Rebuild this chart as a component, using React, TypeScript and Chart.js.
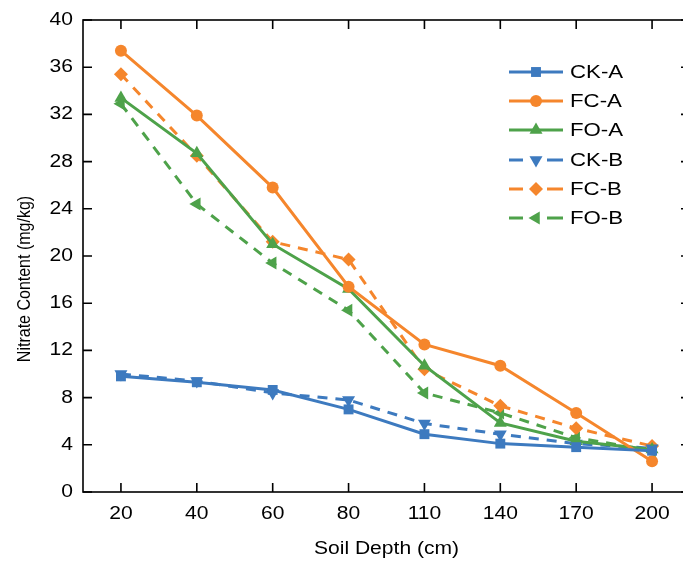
import React, { useEffect, useRef } from "react";
import { Chart, registerables } from "chart.js";

Chart.register(...registerables);

const depths = ["20", "40", "60", "80", "110", "140", "170", "200"];
const ckA = [9.8, 9.3, 8.65, 7.0, 4.9, 4.1, 3.8, 3.5];
const fcA = [37.4, 31.9, 25.8, 17.4, 12.5, 10.7, 6.7, 2.6];
const foA = [33.4, 28.7, 21.0, 17.2, 10.7, 5.85, 4.3, 3.6];
const ckB = [10.0, 9.4, 8.4, 7.8, 5.8, 4.9, 4.1, 3.7];
const fcB = [35.4, 28.5, 21.2, 19.7, 10.4, 7.3, 5.4, 3.9];
const foB = [32.9, 24.4, 19.4, 15.4, 8.4, 6.7, 4.6, 3.5];
const yTicks = [0, 4, 8, 12, 16, 20, 24, 28, 32, 36, 40];

const BLUE = "#3d7abf";
const ORANGE = "#f5862c";
const GREEN = "#4ea24a";
const FONT = "'Liberation Sans', Arial, sans-serif";
const HS = 1.17;
const DASH = [10, 8];

type SeriesDef = {
  label: string;
  data: number[];
  color: string;
  style: string;
  rot: number;
  radius: number;
  dashed: boolean;
};

const series: SeriesDef[] = [
  { label: "CK-A", data: ckA, color: BLUE, style: "rect", rot: 0, radius: 7, dashed: false },
  { label: "FC-A", data: fcA, color: ORANGE, style: "circle", rot: 0, radius: 6, dashed: false },
  { label: "FO-A", data: foA, color: GREEN, style: "triangle", rot: 0, radius: 7.5, dashed: false },
  { label: "CK-B", data: ckB, color: BLUE, style: "triangle", rot: 180, radius: 7.5, dashed: true },
  { label: "FC-B", data: fcB, color: ORANGE, style: "rectRot", rot: 0, radius: 7, dashed: true },
  { label: "FO-B", data: foB, color: GREEN, style: "triangle", rot: -90, radius: 7.5, dashed: true },
];

function drawMarker(ctx: CanvasRenderingContext2D, s: SeriesDef, x: number, y: number) {
  ctx.save();
  ctx.translate(x, y);
  ctx.rotate((s.rot * Math.PI) / 180);
  ctx.fillStyle = s.color;
  ctx.beginPath();
  const r = s.radius;
  if (s.style === "rect") {
    const h = r * Math.SQRT1_2;
    ctx.rect(-h, -h, 2 * h, 2 * h);
  } else if (s.style === "circle") {
    ctx.arc(0, 0, r, 0, Math.PI * 2);
  } else if (s.style === "triangle") {
    ctx.moveTo(0, -r);
    ctx.lineTo(r * 0.866, r * 0.5);
    ctx.lineTo(-r * 0.866, r * 0.5);
    ctx.closePath();
  } else if (s.style === "rectRot") {
    ctx.moveTo(0, -r);
    ctx.lineTo(r, 0);
    ctx.lineTo(0, r);
    ctx.lineTo(-r, 0);
    ctx.closePath();
  }
  ctx.fill();
  ctx.restore();
}

function text(
  ctx: CanvasRenderingContext2D,
  str: string,
  x: number,
  y: number,
  align: CanvasTextAlign,
  size: number,
  rotate = false
) {
  ctx.save();
  ctx.translate(x, y);
  ctx.scale(HS, 1);
  if (rotate) ctx.rotate(-Math.PI / 2);
  ctx.font = `${size}px ${FONT}`;
  ctx.fillStyle = "#000";
  ctx.textAlign = align;
  ctx.textBaseline = "middle";
  ctx.fillText(str, 0, 0);
  ctx.restore();
}

const framePlugin = {
  id: "frameAndLegend",
  afterDraw(chart: any) {
    const ctx = chart.ctx;
    const { left, right, top, bottom } = chart.chartArea;
    const xs = chart.scales.x;
    const ys = chart.scales.y;
    ctx.save();
    ctx.strokeStyle = "#000";
    ctx.lineWidth = 1.6;
    ctx.strokeRect(left, top, right - left, bottom - top);
    const tl = 9;
    ctx.beginPath();
    depths.forEach((_, i) => {
      const x = xs.getPixelForValue(i);
      ctx.moveTo(x, bottom);
      ctx.lineTo(x, bottom - tl);
      ctx.moveTo(x, top);
      ctx.lineTo(x, top + tl);
    });
    yTicks.forEach((v) => {
      const y = ys.getPixelForValue(v);
      ctx.moveTo(left, y);
      ctx.lineTo(left + tl, y);
      ctx.moveTo(right, y);
      ctx.lineTo(right - tl, y);
    });
    ctx.stroke();

    // tick labels
    depths.forEach((d, i) => {
      text(ctx, d, xs.getPixelForValue(i), 514, "center", 18);
    });
    yTicks.forEach((v) => {
      text(ctx, String(v), left - 10, ys.getPixelForValue(v), "right", 18);
    });

    // axis titles
    text(ctx, "Soil Depth (cm)", (left + right) / 2, 549, "center", 18);
    text(ctx, "Nitrate Content (mg/kg)", 25, 279, "center", 16, true);

    // legend
    const lx0 = 509;
    const lx1 = 563;
    const rows = [72, 101, 130, 160, 189, 218];
    series.forEach((s, i) => {
      const y = rows[i];
      ctx.strokeStyle = s.color;
      ctx.lineWidth = 3;
      ctx.beginPath();
      if (s.dashed) {
        ctx.moveTo(lx0, y);
        ctx.lineTo(lx0 + 14, y);
        ctx.moveTo(lx1 - 16, y);
        ctx.lineTo(lx1, y);
      } else {
        ctx.moveTo(lx0, y);
        ctx.lineTo(lx1, y);
      }
      ctx.stroke();
      drawMarker(ctx, s, (lx0 + lx1) / 2, y);
      text(ctx, s.label, 570, y + 1, "left", 19);
    });
    ctx.restore();
  },
};

export default function App() {
  const ref = useRef<HTMLCanvasElement | null>(null);
  useEffect(() => {
    if (!ref.current) return;
    const chart = new Chart(ref.current, {
      type: "line",
      data: {
        labels: depths,
        datasets: series.map((s) => ({
          label: s.label,
          data: s.data,
          borderColor: s.color,
          backgroundColor: s.color,
          borderWidth: 3,
          borderDash: s.dashed ? DASH : [],
          pointStyle: s.style as any,
          pointRotation: s.rot,
          pointRadius: s.radius,
          pointBorderWidth: 0,
          pointBackgroundColor: s.color,
          tension: 0,
          fill: false,
        })),
      },
      options: {
        animation: false,
        responsive: false,
        layout: { padding: { top: 20, right: 10, left: 0, bottom: 0 } },
        plugins: {
          legend: { display: false },
          tooltip: { enabled: false },
        },
        scales: {
          x: {
            offset: true,
            grid: { display: false, drawTicks: false },
            border: { display: false },
            ticks: { display: false },
            afterFit: (scale: any) => {
              scale.height = 69;
            },
          },
          y: {
            min: 0,
            max: 40,
            grid: { display: false, drawTicks: false },
            border: { display: false },
            ticks: { display: false, stepSize: 4 },
            afterFit: (scale: any) => {
              scale.width = 83;
            },
          },
        },
      },
      plugins: [framePlugin],
    });
    return () => chart.destroy();
  }, []);
  return (
    <div
      style={{
        position: "fixed",
        left: 0,
        top: 0,
        width: 683,
        height: 561,
        overflow: "hidden",
        background: "#fff",
      }}
    >
      <canvas ref={ref} width={700} height={561} style={{ display: "block" }} />
    </div>
  );
}
